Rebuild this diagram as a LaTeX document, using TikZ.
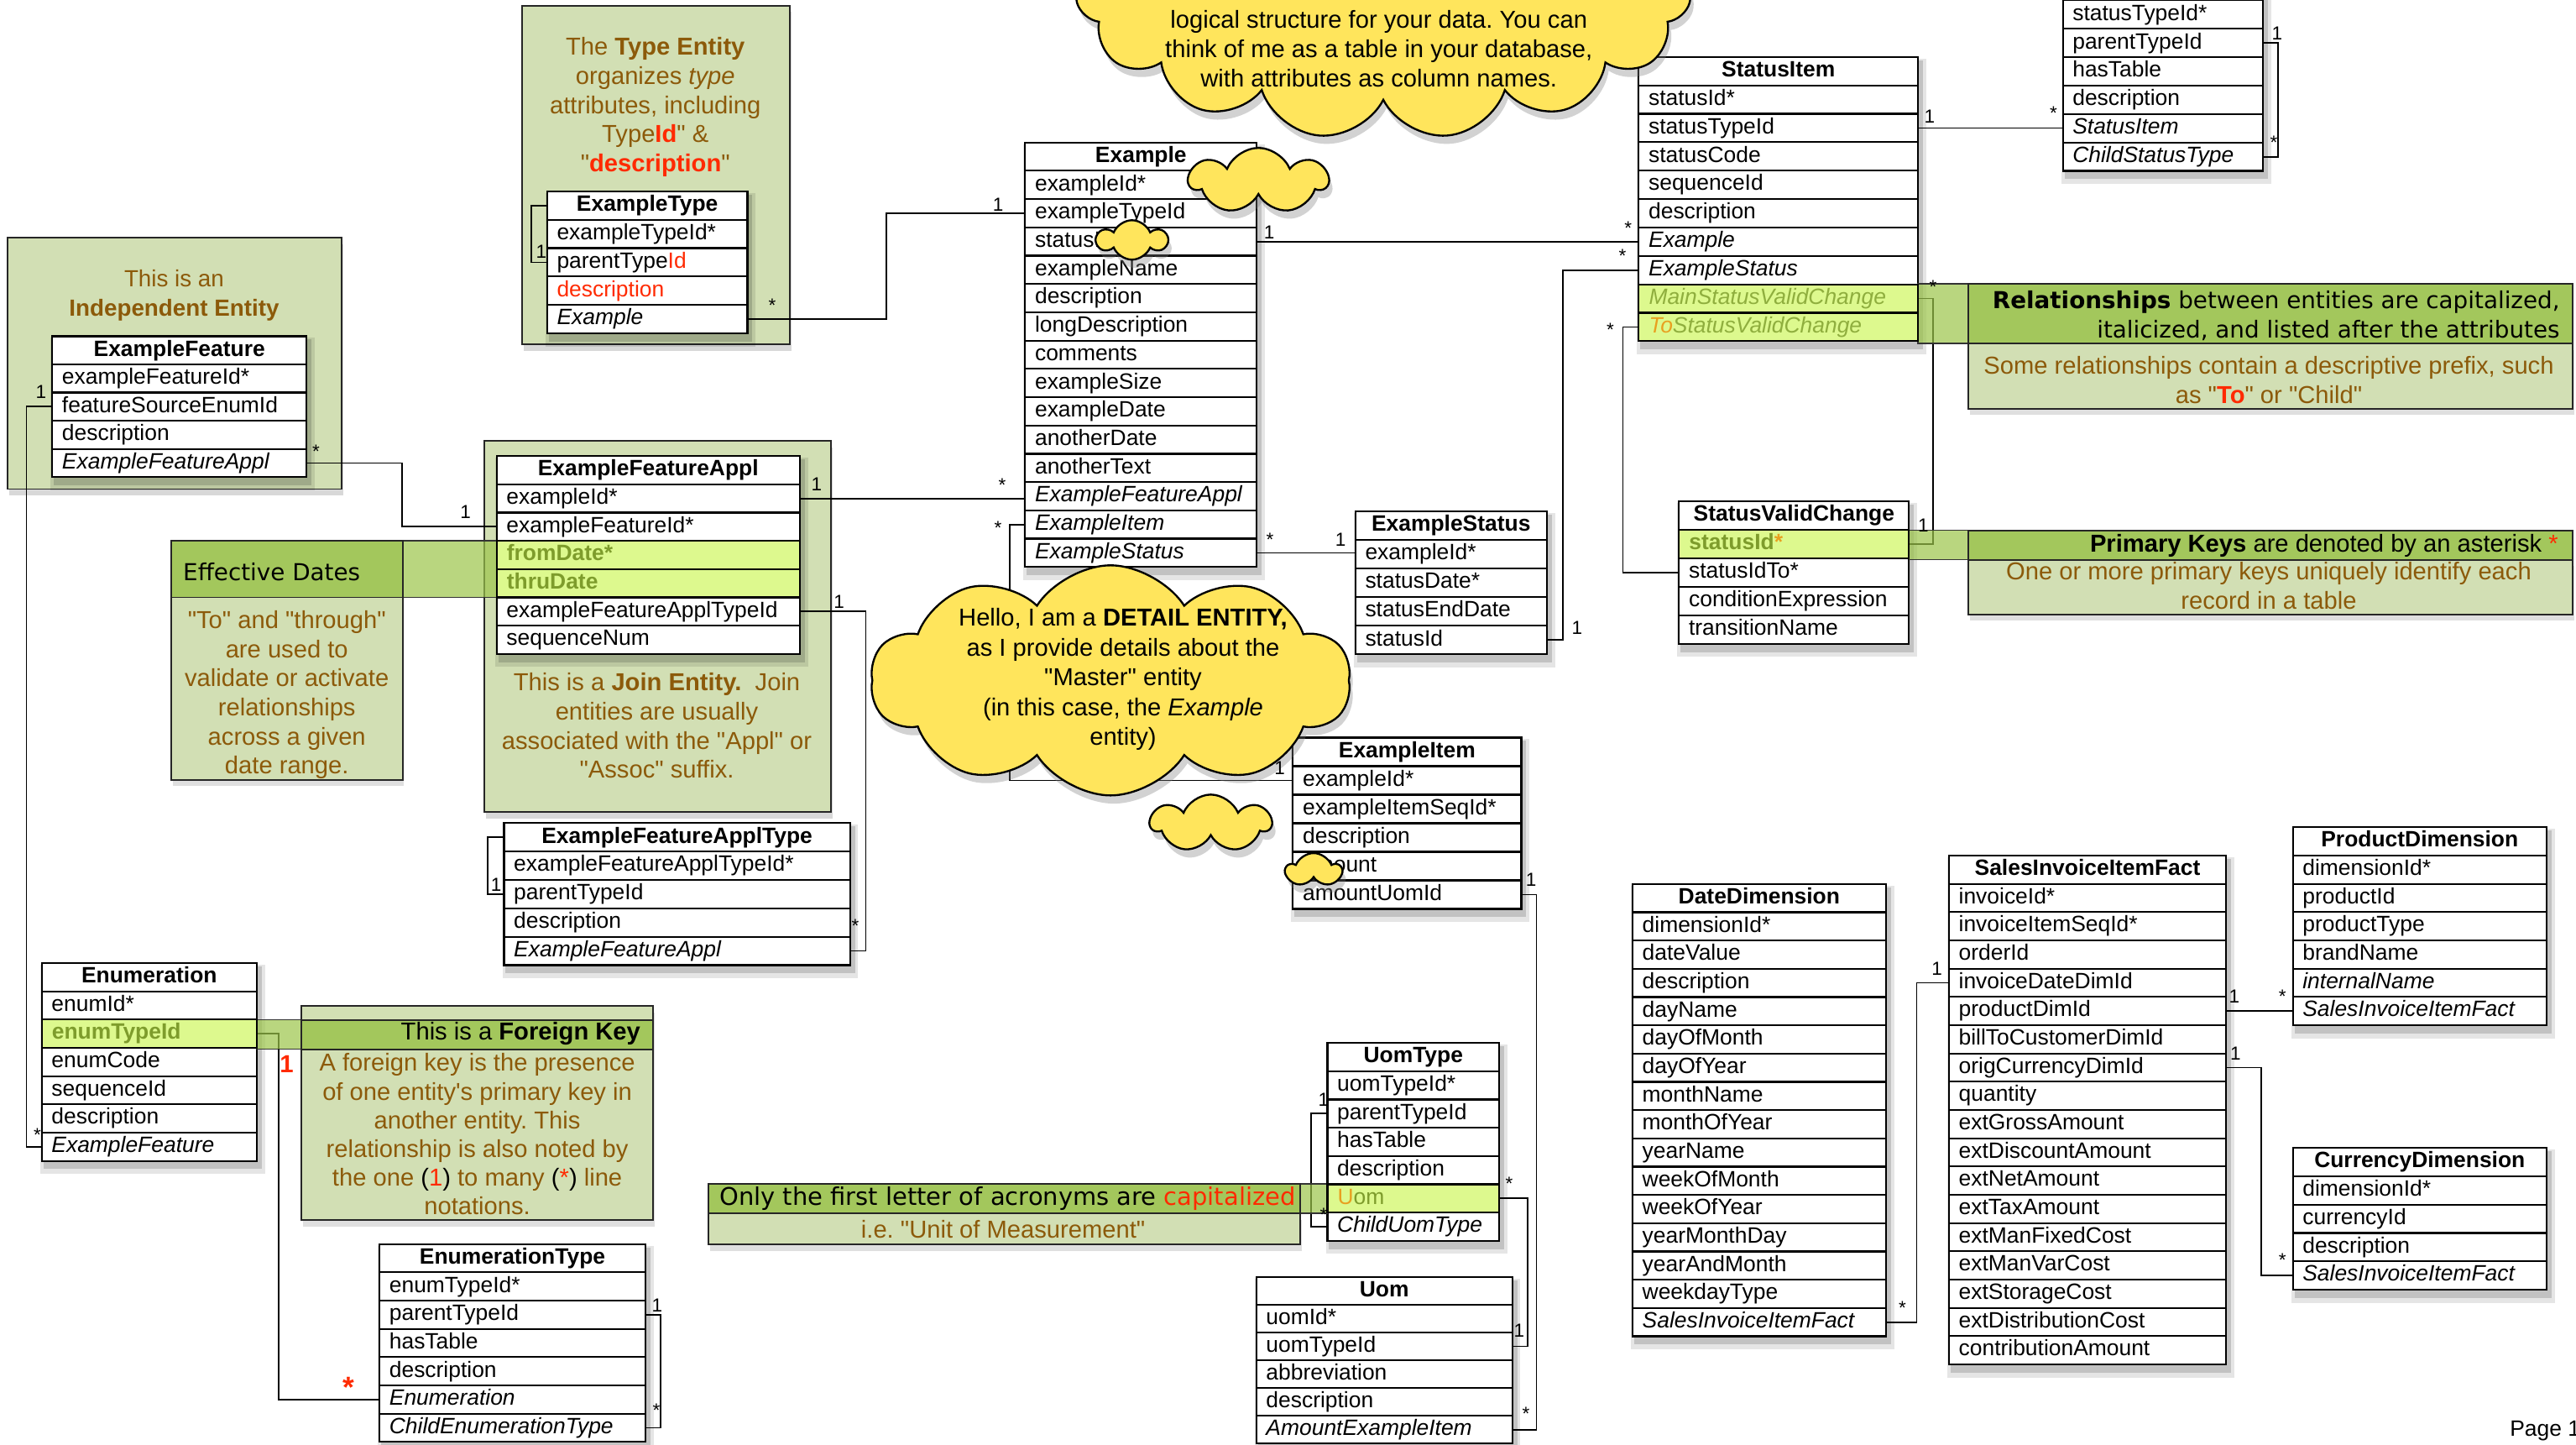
\documentclass[tikz,border=0pt]{standalone}
\usepackage{fontspec}
\setmainfont{Liberation Sans}[Ligatures=TeXOff]
\newfontfamily\hdfam{DejaVu Sans}[Ligatures=TeXOff]
\usetikzlibrary{shapes.symbols,shadows}
\pgfdeclarelayer{boxlayer}
\pgfdeclarelayer{shadowlayer}
\pgfsetlayers{boxlayer,shadowlayer,main}
\definecolor{brownt}{HTML}{8C5A0A}
\definecolor{redt}{HTML}{FF2A00}
\definecolor{notebg}{HTML}{D2DFB4}
\definecolor{notehd}{HTML}{A3C75C}
\definecolor{bandc}{HTML}{9CC54A}
\definecolor{hlrowc}{HTML}{DDF98E}
\definecolor{olivet}{HTML}{7E9C2C}
\definecolor{olivel}{HTML}{8FAE3E}
\definecolor{oranget}{HTML}{E8A020}
\definecolor{cloudy}{HTML}{FFE55C}
\newcommand\tabfnt{\fontsize{13.5}{15}\selectfont}
\newcommand\notefnt{\fontsize{14.9}{17.7}\selectfont}
\newcommand\lblfnt{\fontsize{11.5}{12}\selectfont}
\tikzset{
  tb/.style={draw=black, line width=1.1pt, fill=white, inner ysep=0pt, outer sep=0pt, anchor=north west},
  hdrbox/.style={tb, font=\tabfnt\bfseries, inner xsep=2pt, align=center, text height=10pt, text depth=3pt},
  rowbox/.style={tb, font=\tabfnt, inner xsep=6pt, align=left, text height=10pt, text depth=3pt},
  conn/.style={draw=black, line width=0.9pt},
  lbl/.style={font=\lblfnt, inner sep=0pt},
  redlbl/.style={font=\bfseries\fontsize{15}{15}\selectfont, text=redt, inner sep=0pt},
  ntext/.style={align=center, font=\notefnt, text=brownt, inner sep=0pt},
  ctext/.style={align=center, font=\fontsize{14.9}{17.9}\selectfont, text=black, inner sep=0pt},
  gbox/.style={fill=notebg, draw=black!85, line width=1pt, drop shadow={opacity=.3, shadow xshift=1pt, shadow yshift=-4pt}},
  notebody/.style={fill=notebg, draw=black!85, line width=1pt, drop shadow={opacity=.25, shadow xshift=1pt, shadow yshift=-4pt}},
  notehead/.style={fill=notehd, draw=black!85, line width=1pt},
  band/.style={fill=bandc, fill opacity=.7, draw=black!80, line width=.8pt},
  cloudst/.style={cloud, cloud puffs=#1, cloud puff arc=135, cloud ignores aspect, draw=black, line width=1.2pt, fill=cloudy, inner sep=0pt, drop shadow={opacity=0.35, shadow xshift=2pt, shadow yshift=-5pt}}
}
% name, xleft, xright, ytop, rowheight, header, rows
\newcommand\ertable[7]{%
  \pgfmathsetmacro\ertw{#3-(#2)}%
  \pgfmathsetmacro\ertww{\ertw-12}%
  \node[hdrbox, minimum width=\ertw pt, minimum height=#5pt] (#1) at (#2,#4) {#6};
  \foreach \ertxt [count=\eri] in {#7}{%
    \node[rowbox, minimum width=\ertw pt, text width=\ertww pt, minimum height=#5pt] (#1-r\eri) at (#2,{#4+\eri*#5}) {\ertxt};
    \xdef\erlast{\eri}%
  }%
  \begin{pgfonlayer}{shadowlayer}
    \fill[black, opacity=.10] ([xshift=-1pt,yshift=-1pt]#1.north west) rectangle ([xshift=5pt,yshift=-8pt]#1-r\erlast.south east);
    \fill[black, opacity=.15] ([xshift=1pt,yshift=-2pt]#1.north west) rectangle ([xshift=3pt,yshift=-5pt]#1-r\erlast.south east);
  \end{pgfonlayer}%
}
\newcommand\hlrow[2]{%
  \path[draw=black, line width=1.1pt, fill=hlrowc] (#1.north west) rectangle (#1.south east);
  \node[anchor=base west, inner sep=0pt, font=\tabfnt] (#1-hl) at ([xshift=6pt]#1.base west) {#2};
}
\newcommand\lab[4]{\node[lbl] (#1) at (#2,#3) {#4};}
\frenchspacing
\begin{document}
\begin{tikzpicture}[x=1pt,y=-1pt]
\useasboundingbox (0,0) rectangle (1568,878.8);
\begin{pgfonlayer}{boxlayer}
  \fill[white] (0,0) rectangle (1568,878.8);
  \path[gbox] (318,3.4) rectangle (481,209.5);
  \path[gbox] (4.4,144.8) rectangle (207.8,297.6);
  \path[gbox] (295,268.4) rectangle (505.6,494);
\end{pgfonlayer}

% ---------- tables ----------
\ertable{ExampleType}{333}{455}{116.5}{17.25}{ExampleType}{exampleTypeId*, parentType{\color{redt}Id}, {\color{redt}description}, \textit{Example}}
\ertable{Example}{624}{765}{86.7}{17.22}{Example}{exampleId*, exampleTypeId, statusId, exampleName, description, longDescription, comments, exampleSize, exampleDate, anotherDate, anotherText, \textit{ExampleFeatureAppl}, \textit{ExampleItem}, \textit{ExampleStatus}}
\ertable{StatusItem}{997.5}{1167.5}{34.6}{17.3}{StatusItem}{statusId*, statusTypeId, statusCode, sequenceId, description, \textit{Example}, \textit{ExampleStatus}, {}, {}}
\ertable{StatusType}{1255.6}{1377.5}{-17.1}{17.3}{}{statusTypeId*, parentTypeId, hasTable, description, \textit{StatusItem}, \textit{ChildStatusType}}
\ertable{ExampleFeature}{31.8}{186.6}{204.6}{17.14}{ExampleFeature}{exampleFeatureId*, featureSourceEnumId, description, \textit{ExampleFeatureAppl}}
\ertable{EFA}{302.3}{486.8}{277.5}{17.2}{ExampleFeatureAppl}{exampleId*, exampleFeatureId*, {}, {}, exampleFeatureApplTypeId, sequenceNum}
\ertable{EFAT}{306.8}{517.4}{500.8}{17.3}{ExampleFeatureApplType}{exampleFeatureApplTypeId*, parentTypeId, description, \textit{ExampleFeatureAppl}}
\ertable{ExampleStatus}{825}{941.5}{311.1}{17.4}{ExampleStatus}{exampleId*, statusDate*, statusEndDate, statusId}
\ertable{SVC}{1022}{1162}{305}{17.35}{StatusValidChange}{{}, statusIdTo*, conditionExpression, transitionName}
\ertable{ExampleItem}{787}{926}{448.8}{17.38}{ExampleItem}{exampleId*, exampleItemSeqId*, description, amount, amountUomId}
\ertable{UomType}{808}{912.5}{634.6}{17.2}{UomType}{uomTypeId*, parentTypeId, hasTable, description, {}, \textit{ChildUomType}}
\ertable{Uom}{764.7}{920.5}{777}{16.9}{Uom}{uomId*, uomTypeId, abbreviation, description, \textit{AmountExampleItem}}
\ertable{Enumeration}{25.4}{156.3}{586}{17.2}{Enumeration}{enumId*, {}, enumCode, sequenceId, description, \textit{ExampleFeature}}
\ertable{EnumType}{231}{392.8}{757}{17.2}{EnumerationType}{enumTypeId*, parentTypeId, hasTable, description, \textit{Enumeration}, \textit{ChildEnumerationType}}
\ertable{DateDim}{993.7}{1147.9}{537.9}{17.2}{DateDimension}{dimensionId*, dateValue, description, dayName, dayOfMonth, dayOfYear, monthName, monthOfYear, yearName, weekOfMonth, weekOfYear, yearMonthDay, yearAndMonth, weekdayType, \textit{SalesInvoiceItemFact}}
\ertable{SIF}{1186.3}{1355}{520.6}{17.2}{SalesInvoiceItemFact}{invoiceId*, invoiceItemSeqId*, orderId, invoiceDateDimId, productDimId, billToCustomerDimId, origCurrencyDimId, quantity, extGrossAmount, extDiscountAmount, extNetAmount, extTaxAmount, extManFixedCost, extManVarCost, extStorageCost, extDistributionCost, contributionAmount}
\ertable{ProdDim}{1395.6}{1550.1}{503.4}{17.2}{ProductDimension}{dimensionId*, productId, productType, brandName, \textit{internalName}, \textit{SalesInvoiceItemFact}}
\ertable{CurDim}{1395.6}{1550.1}{698.5}{17.25}{CurrencyDimension}{dimensionId*, currencyId, description, \textit{SalesInvoiceItemFact}}

% ---------- connectors ----------
\draw[conn] (ExampleType-r4.east) -- ++(84.6,0) |- (Example-r2.west);
\draw[conn] (ExampleType.west) -- ++(-9.7,0) |- (ExampleType-r2.west);
\draw[conn] (Example-r3.east) -- (Example-r3.east -| StatusItem-r6.west);
\draw[conn] (StatusItem-r2.east) -- (StatusItem-r2.east -| StatusType-r5.west);
\draw[conn] (StatusType-r2.east) -- ++(9,0) |- (StatusType-r6.east);
\draw[conn] (ExampleFeature-r4.east) -- ++(58.1,0) |- (EFA-r2.west);
\draw[conn] (ExampleFeature-r2.west) -- ++(-15.7,0) |- (Enumeration-r6.west);
\draw[conn] (EFA-r1.east) -- (EFA-r1.east -| Example-r12.west);
\draw[conn] (EFA-r5.east) -- ++(40.2,0) |- (EFAT-r4.east);
\draw[conn] (EFAT.west) -- ++(-9.8,0) |- (EFAT-r2.west);
\draw[conn] (Example-r14.east) -- (Example-r14.east -| ExampleStatus-r1.west);
\draw[conn] (ExampleStatus-r4.east) -- ++(9.8,0) |- (StatusItem-r7.west);
\draw[conn] (StatusItem-r8.east) -- ++(9.3,0) |- (SVC-r1.east);
\draw[conn] (StatusItem-r9.west) -- ++(-9.7,0) |- (SVC-r2.west);
\draw[conn] (Example-r13.west) -- ++(-9.3,0) |- (ExampleItem-r1.west);
\draw[conn] (ExampleItem-r5.east) -- ++(9.2,0) |- (Uom-r5.east);
\draw[conn] (UomType-r5.east) -- ++(17.2,0) |- (Uom-r2.east);
\draw[conn] (UomType-r2.west) -- ++(-10,0) |- (UomType-r6.west);
\draw[conn] (Enumeration-r2.east) -- ++(13.4,0) |- (EnumType-r5.west);
\draw[conn] (EnumType-r2.east) -- ++(9.2,0) |- (EnumType-r6.east);
\draw[conn] (DateDim-r15.east) -- ++(18.8,0) |- (SIF-r4.west);
\draw[conn] (SIF-r5.east) -- (SIF-r5.east -| ProdDim-r6.west);
\draw[conn] (SIF-r7.east) -- ++(21.4,0) |- (CurDim-r4.west);

% ---------- Effective Dates note ----------
\path[band] (245,329.1) rectangle (486.8,363.5);
\hlrow{EFA-r3}{\textbf{\color{olivet}fromDate*}}
\hlrow{EFA-r4}{\textbf{\color{olivet}thruDate}}
\path[notebody] (104.4,363.5) rectangle (245,474.4);
\path[notehead] (104.4,329.1) rectangle (245,363.5);
\node[anchor=west, inner sep=0pt, font=\hdfam\fontsize{14.2}{16}\selectfont] (effhd) at (111.3,347.8) {Effective Dates};
\node[ntext] (efftxt) at (174.6,422.8) {"To" and "through"\\are used to\\validate or activate\\relationships\\across a given\\date range.};

% ---------- Foreign key note ----------
\path[band] (156.3,620.6) rectangle (183.6,638.4);
\hlrow{Enumeration-r2}{\textbf{\color{olivet}enumTypeId}}
\path[notebody] (183.6,612) rectangle (397.6,742.5);
\path[notehead] (183.6,620.6) rectangle (397.6,638.4);
\node[anchor=east, inner sep=0pt, font=\fontsize{14.9}{16}\selectfont] (fkhd) at (390,629) {This is a \textbf{Foreign Key}};
\node[ntext, font=\fontsize{14.9}{17.48}\selectfont] (fktxt) at (290.5,690.2) {A foreign key is the presence\\of one entity's primary key in\\another entity. This\\relationship is also noted by\\the one {\color{black}(}{\color{redt}1}{\color{black})} to many {\color{black}(}{\color{redt}*}{\color{black})} line\\notations.};

% ---------- Acronym note ----------
\path[band] (791.4,720.4) rectangle (808,738.3);
\hlrow{UomType-r5}{{\color{oranget}U}{\color{olivet}om}}
\path[notebody] (431,738.3) rectangle (791.4,757);
\path[notehead] (431,720.4) rectangle (791.4,738.3);
\node[anchor=west, inner sep=0pt, font=\hdfam\fontsize{14.8}{16}\selectfont] (achd) at (437.8,729.3) {Only the first letter of acronyms are {\color{redt}capitalized}};
\node[ntext] (acbody) at (610.6,748) {i.e. "Unit of Measurement"};

% ---------- Relationships note ----------
\path[band] (1167.5,172.8) rectangle (1198,209);
\hlrow{StatusItem-r8}{\textit{\color{olivel}MainStatusValidChange}}
\hlrow{StatusItem-r9}{\textit{{\color{oranget}To}\color{olivel}StatusValidChange}}
\path[notebody] (1198,209) rectangle (1566,248.6);
\path[notehead] (1198,172.8) rectangle (1566,209);
\node[anchor=east, align=right, inner sep=0pt, font=\hdfam\fontsize{14.2}{17.9}\selectfont] (relhd) at (1558.3,191.95) {\textbf{Relationships} between entities are capitalized,\\italicized, and listed after the attributes};
\node[ntext] (relbody) at (1381,231.2) {Some relationships contain a descriptive prefix, such\\as "{\bfseries\color{redt}To}" or "Child"};

% ---------- Primary key note ----------
\path[band] (1162,322.7) rectangle (1198,340.6);
\hlrow{SVC-r1}{\textbf{\color{olivet}statusId{\color{oranget}*}}}
\path[notebody] (1198,340.6) rectangle (1566,373.8);
\path[notehead] (1198,322.7) rectangle (1566,340.6);
\node[anchor=east, inner sep=0pt, font=\fontsize{14.9}{16}\selectfont] (pkhd) at (1557.3,332) {\textbf{Primary Keys} are denoted by an asterisk {\color{redt}*}};
\node[ntext] (pkbody) at (1381,356.5) {One or more primary keys uniquely identify each\\record in a table};

% ---------- green box texts ----------
\node[ntext] (typetxt) at (398.9,65.2) {The \textbf{Type Entity}\\organizes \textit{type}\\attributes, including\\Type{\bfseries\color{redt}Id}" \&\\"{\bfseries\color{redt}description}"};
\node[ntext, font=\fontsize{14.2}{17.5}\selectfont] (indtxt) at (106,179.8) {This is an\\\textbf{Independent Entity}};
\node[ntext] (jointxt) at (399.8,441.6) {This is a \textbf{Join Entity.}\ \ Join\\entities are usually\\associated with the "Appl" or\\"Assoc" suffix.};

% ---------- clouds ----------
\node[cloudst=15, minimum width=375pt, minimum height=185pt] (topcloud) at (842,-8) {};
\node[ctext] (toptxt) at (839.3,29.8) {logical structure for your data. You can\\think of me as a table in your database,\\with attributes as column names.};
\node[cloudst=10, cloud puff arc=115, minimum width=292pt, minimum height=140pt] (detcloud) at (676,414) {};
\node[ctext, font=\fontsize{14.9}{18.1}\selectfont] (dettxt) at (683.6,413.4) {Hello, I am a \textbf{DETAIL ENTITY,}\\as I provide details about the\\"Master" entity\\(in this case, the \textit{Example}\\entity)};
\node[cloudst=7, minimum width=84pt, minimum height=40pt] (cloudA) at (766,110) {};
\node[cloudst=6, minimum width=42pt, minimum height=24pt] (cloudB) at (689,146) {};
\node[cloudst=7, minimum width=73pt, minimum height=35pt] (cloudC) at (737,501) {};
\node[cloudst=5, minimum width=33pt, minimum height=21pt] (cloudD) at (799.6,529.6) {};

% ---------- multiplicity labels ----------
\lab{la1}{329.5}{153}{1}
\lab{la2}{470}{185.6}{*}
\lab{la3}{607.5}{124.3}{1}
\lab{la4}{772.5}{141.4}{1}
\lab{la5}{991}{139}{*}
\lab{la6}{1174.5}{70.7}{1}
\lab{la7}{1250}{69}{*}
\lab{la8}{1386}{20.4}{1}
\lab{la9}{1384}{86.9}{*}
\lab{la10}{192.4}{274.8}{*}
\lab{la11}{283.4}{311.7}{1}
\lab{la12}{25}{238.3}{1}
\lab{la13}{22.7}{690.7}{*}
\lab{la14}{497}{294.9}{1}
\lab{la15}{610}{295}{*}
\lab{la16}{510.7}{366}{1}
\lab{la17}{520.6}{563.2}{*}
\lab{la18}{302}{538.2}{1}
\lab{la19}{773}{328.4}{*}
\lab{la20}{816}{328.6}{1}
\lab{la21}{960}{382}{1}
\lab{la22}{987.6}{155.8}{*}
\lab{la23}{1176.6}{174.6}{*}
\lab{la24}{1170.7}{319.8}{1}
\lab{la25}{980.2}{200.6}{*}
\lab{la26}{607.5}{321}{*}
\lab{la27}{779}{467.5}{1}
\lab{la28}{932}{535.5}{1}
\lab{la29}{928.8}{860}{*}
\lab{la30}{918.6}{720}{*}
\lab{la31}{924.7}{809.8}{1}
\lab{la32}{805.7}{669.3}{1}
\lab{la33}{805.7}{739}{*}
\node[redlbl] (la34) at (174.5,647.4) {1};
\node[redlbl, font=\bfseries\fontsize{18}{18}\selectfont] (la35) at (212.4,844) {*};
\lab{la36}{400}{794.5}{1}
\lab{la37}{399.5}{858}{*}
\lab{la38}{1158}{795.8}{*}
\lab{la39}{1179}{589.5}{1}
\lab{la40}{1360}{606.5}{1}
\lab{la41}{1389.3}{606.5}{*}
\lab{la42}{1360.8}{641}{1}
\lab{la43}{1389.3}{766.8}{*}
\node[anchor=base west, inner sep=0pt, font=\tabfnt] (page) at (1527.6,874) {Page 1};
\end{tikzpicture}
\end{document}
